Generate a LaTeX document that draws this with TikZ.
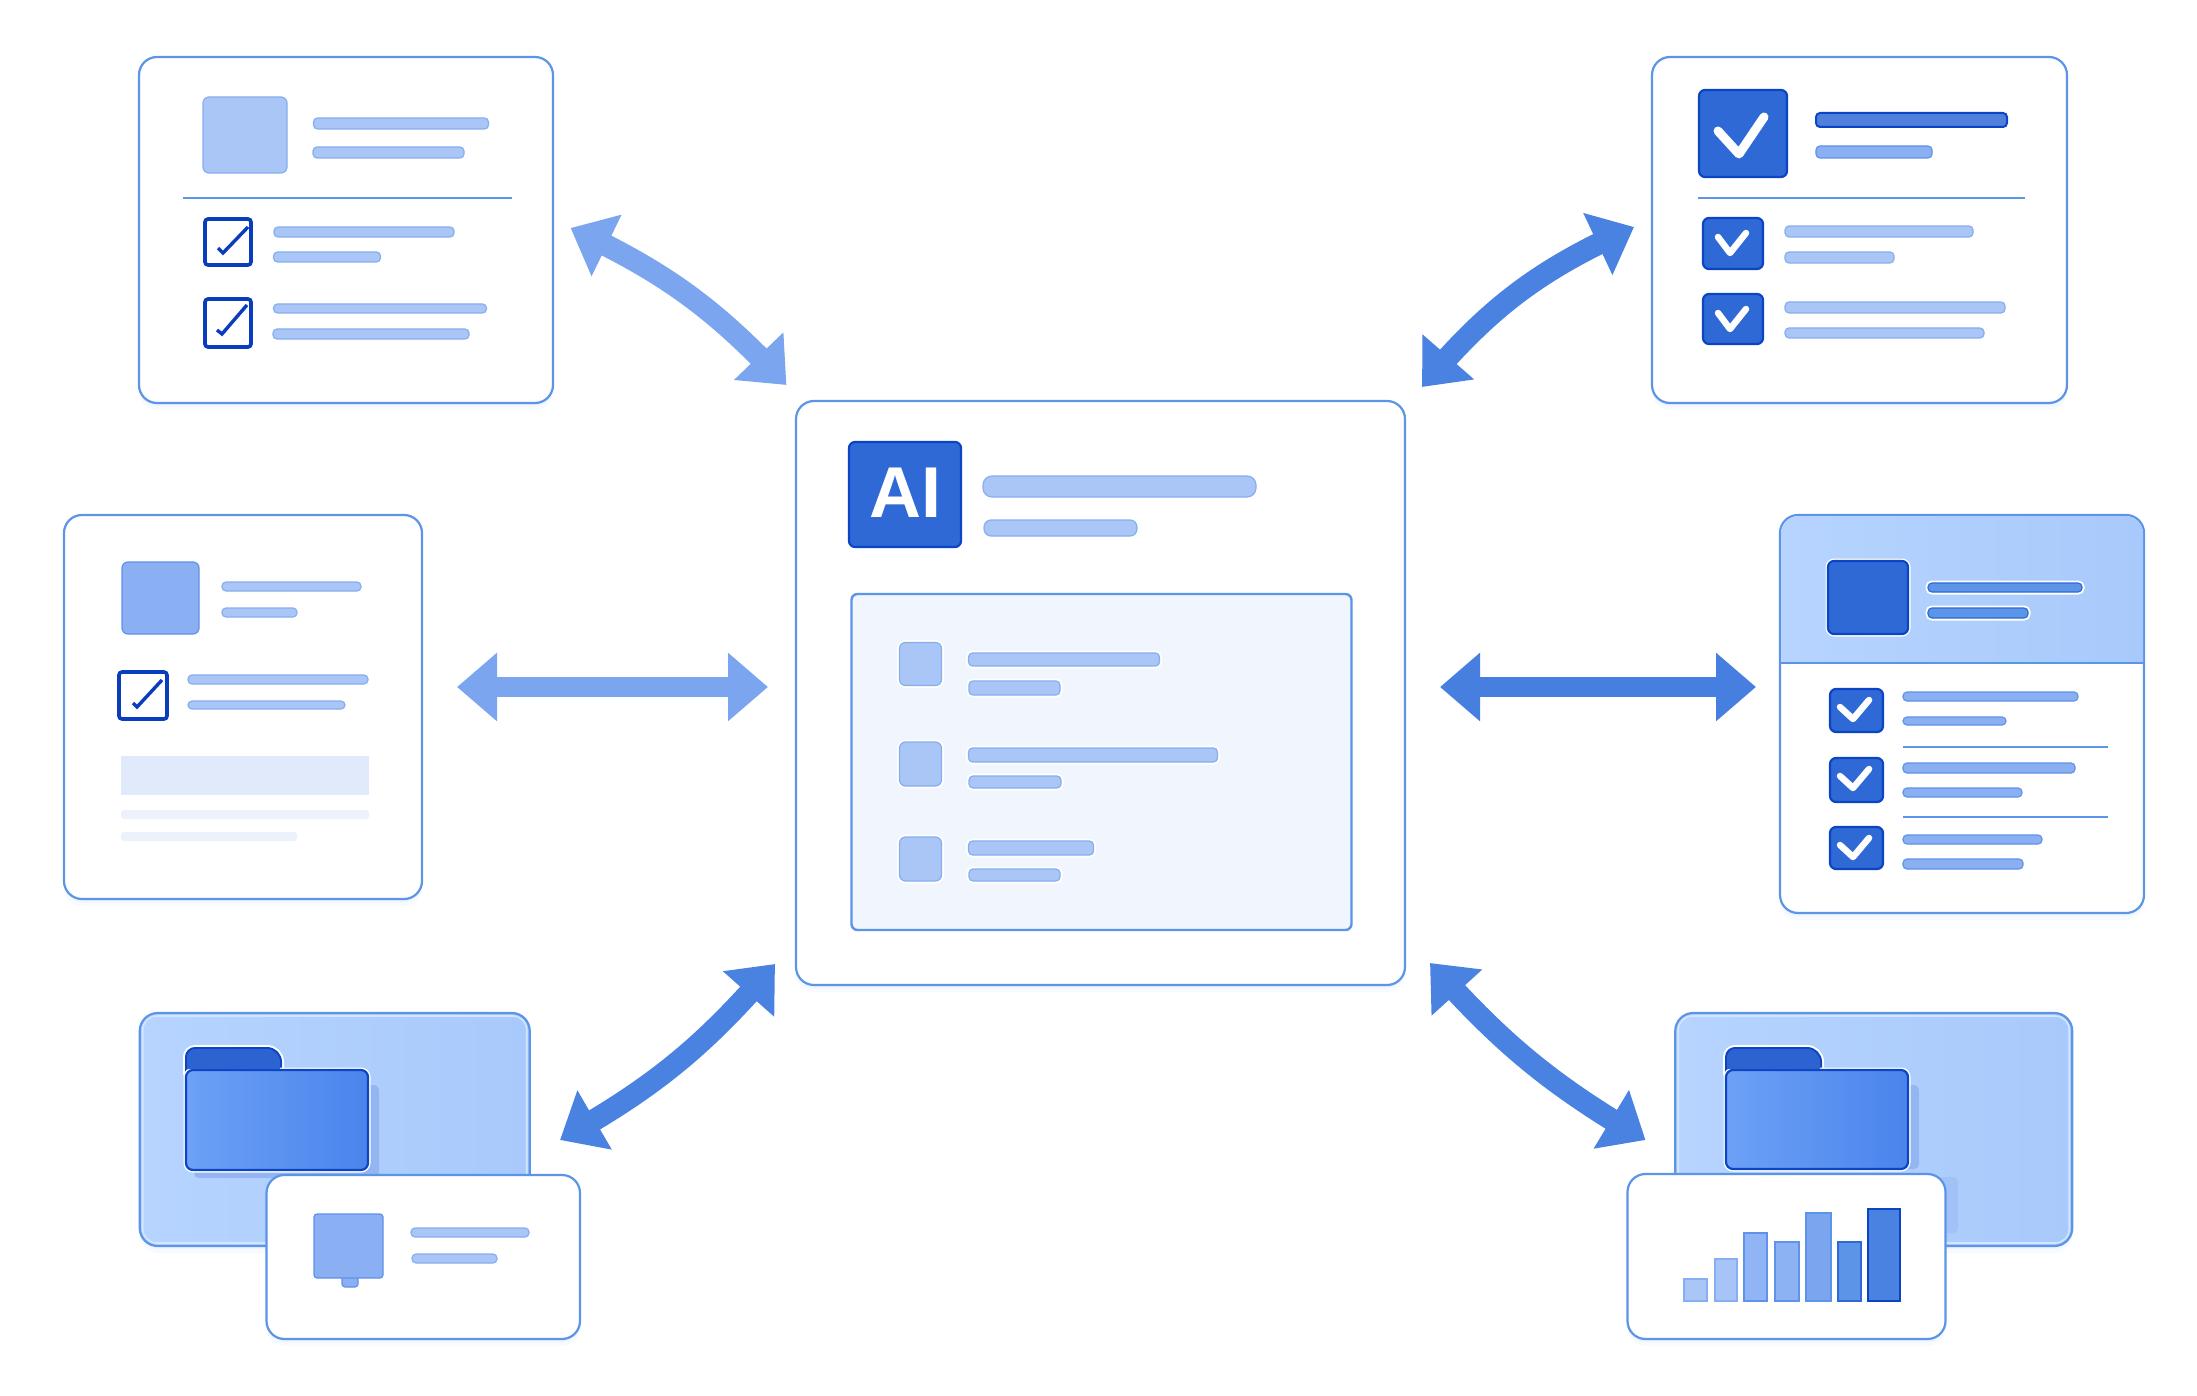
\documentclass[tikz,border=0pt]{standalone}
\usepackage{fontspec}
\setmainfont{Liberation Sans}
\usepackage{xcolor}
\usepackage{tikz}
\usetikzlibrary{arrows.meta, bending, shadows}

\definecolor{edgeblue}{HTML}{5C94E8}
\definecolor{softblue}{HTML}{A9C6F7}
\definecolor{softedge}{HTML}{86AEF0}
\definecolor{midblue}{HTML}{8AB0F3}
\definecolor{midedge}{HTML}{5F92E8}
\definecolor{deepblue}{HTML}{2F69D6}
\definecolor{deepedge}{HTML}{0B45C6}
\definecolor{inkblue}{HTML}{0A3DBE}
\definecolor{panelblue}{HTML}{B2D0FC}
\definecolor{panelleft}{HTML}{B6D4FE}
\definecolor{panelright}{HTML}{A8C9FB}
\definecolor{rimblue}{HTML}{D3E5FF}
\definecolor{innerblue}{HTML}{F0F5FE}
\definecolor{paleblue}{HTML}{E1EAFB}
\definecolor{palerblue}{HTML}{ECF1FC}
\definecolor{tabblue}{HTML}{2C63D0}
\definecolor{folderleft}{HTML}{6DA1F6}
\definecolor{folderright}{HTML}{4A84EC}
\definecolor{castblue}{HTML}{93B6F3}
\definecolor{lightflow}{HTML}{7BA6EF}
\definecolor{darkflow}{HTML}{4A82E2}

\tikzset{
    box/.style={inner sep=0pt, outer sep=0pt},
    card/.style 2 args={box, draw=edgeblue, line width=2.2pt, fill=white, rounded corners=18pt,
        minimum width=#1pt, minimum height=#2pt,
        drop shadow={shadow xshift=0pt, shadow yshift=-7pt, opacity=.05, fill=edgeblue},
        drop shadow={shadow xshift=0pt, shadow yshift=-3pt, opacity=.05, fill=edgeblue}},
    panel/.style 2 args={card={#1}{#2}, left color=panelleft, right color=panelright},
    rim/.style 2 args={box, draw=rimblue, line width=1.6pt, rounded corners=14pt,
        minimum width=#1pt, minimum height=#2pt},
    softbar/.style 2 args={box, draw=softedge, line width=1.2pt, fill=softblue, rounded corners=4pt,
        minimum width=#1pt, minimum height=#2pt},
    midbar/.style 2 args={softbar={#1}{#2}, draw=midedge, fill=midblue},
    deepbar/.style 2 args={softbar={#1}{#2}, draw=deepedge, fill=deepblue!85!white, line width=2pt},
    palebar/.style 2 args={box, fill=palerblue, rounded corners=3pt, minimum width=#1pt, minimum height=#2pt},
    softsq/.style 2 args={softbar={#1}{#2}, rounded corners=6pt},
    midsq/.style 2 args={midbar={#1}{#2}, rounded corners=6pt},
    deepsq/.style 2 args={box, draw=deepedge, line width=2.2pt, fill=deepblue, rounded corners=6pt,
        minimum width=#1pt, minimum height=#2pt},
    tickbox/.style 2 args={box, draw=inkblue, line width=3.6pt, fill=white, rounded corners=3pt,
        minimum width=#1pt, minimum height=#2pt},
    halo/.style={preaction={draw=white, line width=5pt}},
    folder/.style 2 args={box, draw=deepedge, line width=2.2pt, left color=folderleft, right color=folderright,
        rounded corners=7pt, halo, minimum width=#1pt, minimum height=#2pt},
    foldertab/.style={fill=tabblue, draw=deepedge, line width=2pt},
    column/.style n args={4}{box, draw=#3, line width=1.2pt, fill=#4, minimum width=#1pt, minimum height=#2pt},
    cast/.style 2 args={box, fill=castblue, rounded corners=5pt, minimum width=#1pt, minimum height=#2pt},
    rule/.style={draw=edgeblue, line width=1.6pt},
    tick/.style={draw=inkblue, line width=3.4pt},
    whitetick/.style={draw=white, line width=6.5pt, line cap=round, line join=round},
    flow/.style={line width=#1, {Triangle[length=40pt,width=66pt]}-{Triangle[length=40pt,width=66pt]}},
}

\begin{document}
\begin{tikzpicture}[x=1pt, y=-1pt]
    \useasboundingbox (0,0) rectangle (2197,1396);

    \node[card={414}{346}] (tl) at (346,230) {};
    \node[softsq={84}{76}] (tlicon) at (245,135) {};
    \node[softbar={175}{11}] (tla) at (401,123.5) {};
    \node[softbar={151}{11}] (tlb) at (388.5,152.5) {};
    \coordinate (tlruleA) at (183,198);
    \coordinate (tlruleB) at (512,198);
    \draw[rule] (tlruleA) -- (tlruleB);
    \node[tickbox={46}{46}] (tlchka) at (228,242) {};
    \node[softbar={180}{10}] (tlc) at (364,232) {};
    \node[softbar={107}{10}] (tld) at (327,257) {};
    \node[tickbox={46}{48}] (tlchkb) at (228,323) {};
    \node[softbar={213}{9}] (tle) at (380,308.5) {};
    \node[softbar={196}{10}] (tlf) at (371,334) {};
    \draw[tick] (218,248) -- (223,253) -- (248,227);
    \draw[tick] (217,330) -- (222,334) -- (247,305);

    \node[card={415}{346}] (tr) at (1859.5,230) {};
    \node[deepsq={88}{87}] (tricon) at (1743,133.5) {};
    \draw[whitetick, line width=9pt] (1718,131) -- (1739,154) -- (1764,117);
    \node[deepbar={191}{14}] (tra) at (1911.5,120) {};
    \node[midbar={116}{12}] (trb) at (1874,152) {};
    \coordinate (trruleA) at (1698,198);
    \coordinate (trruleB) at (2025,198);
    \draw[rule] (trruleA) -- (trruleB);
    \node[deepsq={60}{51}] (trchka) at (1733,243.5) {};
    \draw[whitetick] (1718,237) -- (1730,253) -- (1746,233);
    \node[softbar={188}{11}] (trc) at (1879,231.5) {};
    \node[softbar={109}{11}] (trd) at (1839.5,257.5) {};
    \node[deepsq={60}{50}] (trchkb) at (1733,319) {};
    \draw[whitetick] (1718,313) -- (1730,329) -- (1746,309);
    \node[softbar={220}{11}] (tre) at (1895,307.5) {};
    \node[softbar={199}{10}] (trf) at (1884.5,333) {};

    \node[card={358}{384}] (lt) at (243,707) {};
    \node[midsq={77}{72}] (lticon) at (160.5,598) {};
    \node[softbar={139}{9}] (lta) at (291.5,586.5) {};
    \node[softbar={75}{9}] (ltb) at (259.5,612.5) {};
    \node[tickbox={48}{47}] (ltchk) at (143,695.5) {};
    \draw[tick] (133,703) -- (137,707) -- (162,680);
    \node[softbar={180}{9}] (ltc) at (278,679.5) {};
    \node[softbar={157}{8}] (ltd) at (266.5,705) {};
    \node[box, fill=paleblue, minimum width=248pt, minimum height=39pt] (ltpale) at (245,775.5) {};
    \node[palebar={248}{9}] (lte) at (245,814.5) {};
    \node[palebar={176}{9}] (ltf) at (209,836.5) {};

    \node[card={609}{584}] (ai) at (1100.5,693) {};
    \node[deepsq={112}{105}] (aiicon) at (905,494.5) {};
    \node[text=white, font=\fontsize{72}{72}\selectfont\bfseries] (ailabel) at (905.5,493) {AI};
    \node[softbar={273}{21}, rounded corners=9pt] (aia) at (1119.5,486.5) {};
    \node[softbar={153}{16}, rounded corners=7pt] (aib) at (1060.5,528) {};
    \node[box, draw=edgeblue, line width=2.4pt, fill=innerblue, rounded corners=6pt,
        minimum width=500pt, minimum height=336pt] (aiin) at (1101.5,762) {};
    \node[softsq={42}{43}, halo] (aisq1) at (920.5,664) {};
    \node[softbar={191}{13}, halo] (ai1a) at (1064,659.5) {};
    \node[softbar={91}{14}, halo] (ai1b) at (1014.5,688) {};
    \node[softsq={42}{44}, halo] (aisq2) at (920.5,764) {};
    \node[softbar={249}{14}, halo] (ai2a) at (1093,755) {};
    \node[softbar={92}{12}, halo] (ai2b) at (1015,782) {};
    \node[softsq={42}{44}, halo] (aisq3) at (920.5,859) {};
    \node[softbar={125}{14}, halo] (ai3a) at (1031,848) {};
    \node[softbar={91}{12}, halo] (ai3b) at (1014.5,875) {};

    \node[card={364}{398}] (rt) at (1962,714) {};
    \shade[left color=panelleft, right color=panelright] (1781,663) [rounded corners=18pt] -- (1781,516) -- (2143,516) [sharp corners] -- (2143,663) -- cycle;
    \coordinate (rtruleA) at (1781,663);
    \coordinate (rtruleB) at (2143,663);
    \draw[rule] (rtruleA) -- (rtruleB);
    \node[deepsq={80}{73}, halo] (rticon) at (1868,597.5) {};
    \node[midbar={154}{9}, draw=deepblue, fill=edgeblue, halo] (rta) at (2005,587.5) {};
    \node[midbar={100}{10}, draw=deepblue, fill=edgeblue, halo] (rtb) at (1978,613) {};
    \node[deepsq={53}{43}] (rtchka) at (1856.5,710.5) {};
    \draw[whitetick] (1840,707) -- (1853,719) -- (1869,700);
    \node[midbar={175}{9}] (rtc) at (1990.5,696.5) {};
    \node[midbar={103}{8}] (rtd) at (1954.5,721) {};
    \coordinate (rtrule1A) at (1903,747);
    \coordinate (rtrule1B) at (2108,747);
    \draw[rule] (rtrule1A) -- (rtrule1B);
    \node[deepsq={53}{44}] (rtchkb) at (1856.5,780) {};
    \draw[whitetick] (1840,776) -- (1853,788) -- (1869,769);
    \node[midbar={172}{10}] (rte) at (1989,768) {};
    \node[midbar={119}{9}] (rtf) at (1962.5,792.5) {};
    \coordinate (rtrule2A) at (1903,817);
    \coordinate (rtrule2B) at (2108,817);
    \draw[rule] (rtrule2A) -- (rtrule2B);
    \node[deepsq={53}{42}] (rtchkc) at (1856.5,848) {};
    \draw[whitetick] (1840,845) -- (1853,857) -- (1869,838);
    \node[midbar={139}{9}] (rtg) at (1972.5,839.5) {};
    \node[midbar={120}{10}] (rth) at (1963,864) {};

    \node[panel={390}{233}] (blpanel) at (334.75,1129.5) {};
    \node[rim={384}{227}] (blrim) at (334.75,1129.5) {};
    \node[cast={185}{93}] (blcast) at (286.5,1131.5) {};
    \draw[foldertab, preaction={draw=white, line width=6pt}]
        (186,1072) [rounded corners=9pt] -- (186,1048) [rounded corners=14pt] -- (281,1048) [sharp corners] -- (281,1072) -- cycle;
    \node[folder={182}{100}] (blfolder) at (277,1120) {};
    \fill[tabblue] (187,1069) [rounded corners=9pt] -- (187,1049) [rounded corners=14pt] -- (280,1049) [sharp corners] -- (280,1069) -- cycle;
    \node[card={313.5}{164}] (blcard) at (423.25,1257) {};
    \node[midbar={16}{14}, rounded corners=3pt] (blnub) at (350,1280) {};
    \node[midsq={69}{64}, rounded corners=3pt] (blicon) at (348.5,1246) {};
    \node[softbar={118}{9}] (bla) at (470,1232.5) {};
    \node[softbar={85}{9}] (blb) at (454.5,1258.5) {};

    \node[panel={397}{233}] (brpanel) at (1873.75,1129.5) {};
    \node[rim={391}{227}] (brrim) at (1873.75,1129.5) {};
    \node[cast={193}{84}] (brcast) at (1822.5,1127) {};
    \node[cast={20}{56}, opacity=.45] (brcastb) at (1948,1205) {};
    \draw[foldertab, preaction={draw=white, line width=6pt}]
        (1726,1072) [rounded corners=9pt] -- (1726,1048) [rounded corners=14pt] -- (1821,1048) [sharp corners] -- (1821,1072) -- cycle;
    \node[folder={182}{99}] (brfolder) at (1817,1119.5) {};
    \fill[tabblue] (1727,1069) [rounded corners=9pt] -- (1727,1049) [rounded corners=14pt] -- (1820,1049) [sharp corners] -- (1820,1069) -- cycle;
    \node[card={318}{165}] (brcard) at (1786.5,1256.5) {};
    \node[column={23}{22}{softedge}{softblue}] (br1) at (1695.5,1290) {};
    \node[column={22}{42}{softedge}{softblue!90!midblue}] (br2) at (1726,1280) {};
    \node[column={23}{68}{midedge}{midblue!80!softblue}] (br3) at (1755.5,1267) {};
    \node[column={24}{59}{midedge}{midblue!90!softblue}] (br4) at (1787,1271.5) {};
    \node[column={25}{88}{edgeblue}{lightflow}] (br5) at (1818.5,1257) {};
    \node[column={23}{59}{deepblue}{edgeblue}] (br6) at (1849.5,1271.5) {};
    \node[column={32}{92}{deepedge}{darkflow}, line width=2.4pt] (br7) at (1884,1255) {};

    \coordinate (flowtlA) at (570.6,228);
    \coordinate (flowtlB) at (786.4,385);
    \coordinate (flowtrA) at (1422,387);
    \coordinate (flowtrB) at (1634,227);
    \coordinate (flowltA) at (457,687);
    \coordinate (flowltB) at (768,687);
    \coordinate (flowrtA) at (1440,687);
    \coordinate (flowrtB) at (1756,687);
    \coordinate (flowblA) at (560,1140);
    \coordinate (flowblB) at (775,964);
    \coordinate (flowbrA) at (1430,963);
    \coordinate (flowbrB) at (1645.5,1140);

    \draw[flow=22pt, draw=lightflow] (flowtlA) to[bend left=11] (flowtlB);
    \draw[flow=22pt, draw=darkflow] (flowtrA) to[bend left=13] (flowtrB);
    \draw[flow=20pt, draw=lightflow] (flowltA) -- (flowltB);
    \draw[flow=20pt, draw=darkflow!90!deepblue] (flowrtA) -- (flowrtB);
    \draw[flow=22pt, draw=darkflow] (flowblA) to[bend right=10] (flowblB);
    \draw[flow=22pt, draw=darkflow] (flowbrA) to[bend right=9] (flowbrB);
\end{tikzpicture}
\end{document}
